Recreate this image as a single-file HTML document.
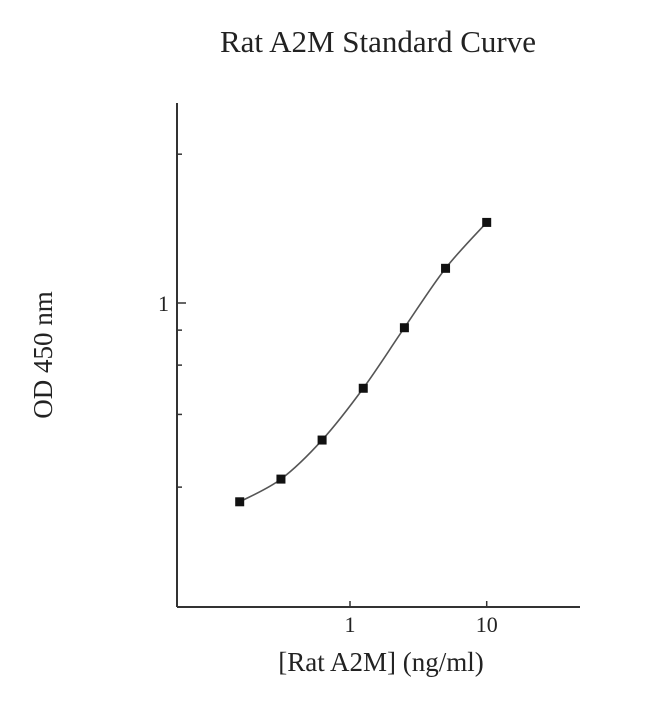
<!DOCTYPE html>
<html><head><meta charset="utf-8"><style>
html,body{margin:0;padding:0;background:#fff;}
svg{display:block;font-family:"Liberation Serif",serif;}
</style></head><body>
<svg id="chart" width="650" height="703">
<text x="378" y="52" text-anchor="middle" font-size="31" fill="#222">Rat A2M Standard Curve</text>
<text x="381" y="671" text-anchor="middle" font-size="27" fill="#222">[Rat A2M] (ng/ml)</text>
<text transform="translate(52,355) rotate(-90)" text-anchor="middle" font-size="27" fill="#222">OD 450 nm</text>
<g id="axes"></g>
<g id="marks"></g>
</svg>
<script>
const xValues = [0.156, 0.3125, 0.625, 1.25, 2.5, 5, 10];
const odValues = [0.195, 0.235, 0.324, 0.496, 0.816, 1.33, 1.94];
const xTickValues = [1, 10];
const xTickLabels = ["1", "10"];
const yTickValues = [3.4, 1, 0.8, 0.6, 0.4, 0.22];
const yTickLabels = ["", "1", "", "", "", ""];

const NS = "http://www.w3.org/2000/svg";
const X0 = 177, X1 = 580, Y0 = 103, Y1 = 607;
function sx(v){ return 350 + Math.log10(v) * 136.7; }
function sy(v){ return 303 - Math.log10(v) * 280; }
function mk(tag, attrs, parent){
  const e = document.createElementNS(NS, tag);
  for (const k in attrs) e.setAttribute(k, attrs[k]);
  parent.appendChild(e);
  return e;
}
const axes = document.getElementById("axes");
const marks = document.getElementById("marks");
let e = mk("line", {x1:X0, y1:Y0, x2:X0, y2:Y1, stroke:"#333", "stroke-width":2}, axes);


e = mk("line", {x1:X0, y1:Y1, x2:X1, y2:Y1, stroke:"#333", "stroke-width":2}, axes);


xTickValues.forEach((v, i) => {
  const x = sx(v);
  const t = mk("line", {x1:x, y1:Y1-6, x2:x, y2:Y1, stroke:"#333", "stroke-width":1.5}, axes);
  
  
  const l = mk("text", {x:x, y:Y1+25, "text-anchor":"middle", "font-size":22, fill:"#222"}, axes);
  l.textContent = xTickLabels[i];
  
  
});
yTickValues.forEach((v, i) => {
  const y = sy(v);
  const t = mk("line", {x1:X0, y1:y, x2:X0 + (yTickLabels[i] ? 9 : 5), y2:y, stroke:"#333", "stroke-width":1.5}, axes);
  
  
  if (yTickLabels[i]) {
    const l = mk("text", {x:X0-8, y:y+8, "text-anchor":"end", "font-size":22, fill:"#222"}, axes);
    l.textContent = yTickLabels[i];
    
    
  }
});
const pts = xValues.map((v, i) => [sx(v), sy(odValues[i])]);
let d = "M" + pts[0][0] + "," + pts[0][1];
for (let i = 0; i < pts.length - 1; i++) {
  const p0 = pts[Math.max(0, i-1)], p1 = pts[i], p2 = pts[i+1], p3 = pts[Math.min(pts.length-1, i+2)];
  const c1 = [p1[0] + (p2[0]-p0[0])/6, p1[1] + (p2[1]-p0[1])/6];
  const c2 = [p2[0] - (p3[0]-p1[0])/6, p2[1] - (p3[1]-p1[1])/6];
  d += " C" + c1[0] + "," + c1[1] + " " + c2[0] + "," + c2[1] + " " + p2[0] + "," + p2[1];
}
const curve = mk("path", {d:d, fill:"none", stroke:"#555", "stroke-width":1.6}, marks);


pts.forEach(p => {
  const r = mk("rect", {x:p[0]-4.5, y:p[1]-4.5, width:9, height:9, fill:"#111"}, marks);
  
  
});
</script>
</body></html>
